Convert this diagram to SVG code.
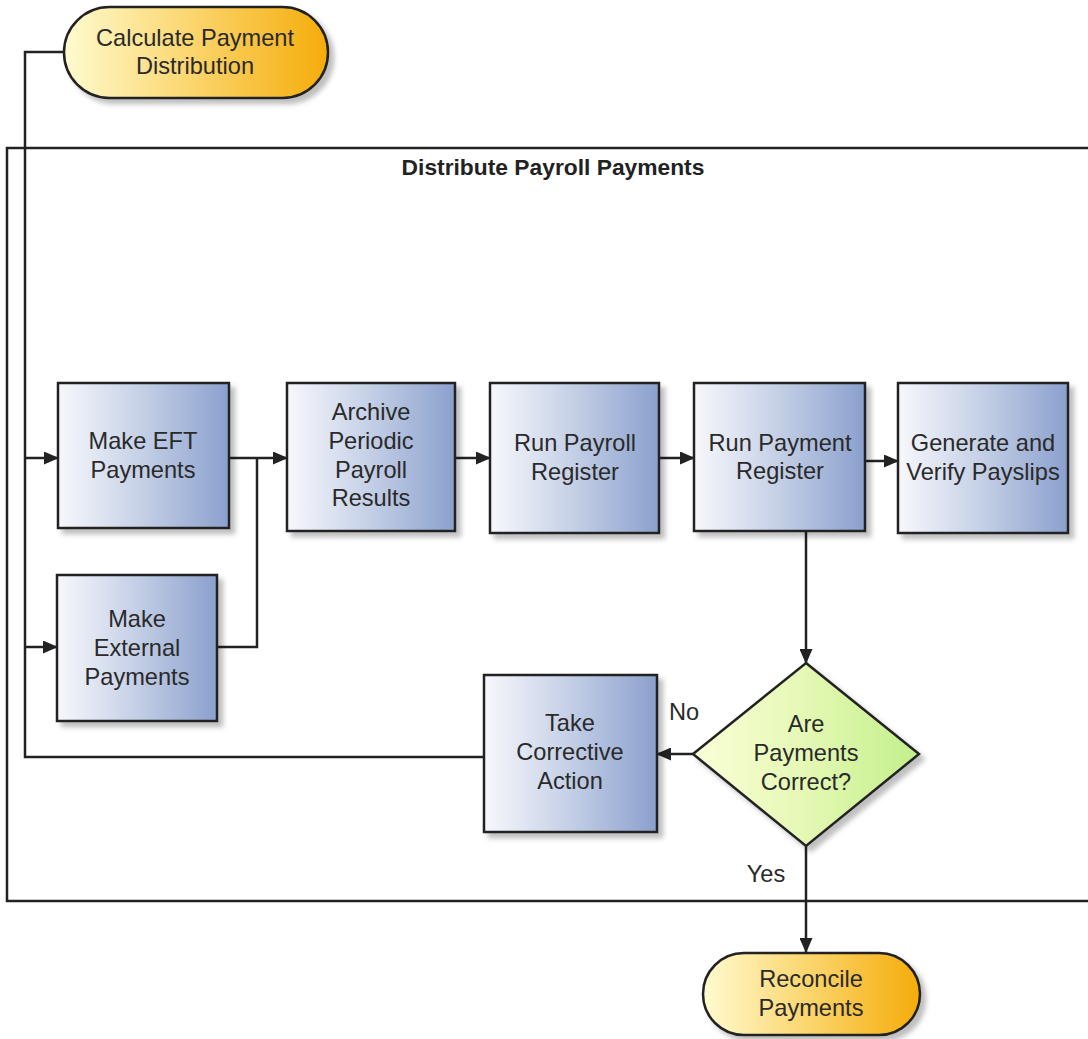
<svg xmlns="http://www.w3.org/2000/svg" width="1088" height="1039" viewBox="0 0 1088 1039">
<style>
.box{stroke:#222;stroke-width:2.5;fill:url(#gBlue);filter:url(#sh)}
.term{stroke:#222;stroke-width:2.5;fill:url(#gOrange);filter:url(#sh)}
.dec{stroke:#222;stroke-width:2.5;fill:url(#gGreen);filter:url(#sh)}
.t{font-family:"Liberation Sans",Arial,sans-serif;font-size:23.6px;fill:#2a2a2a;text-anchor:middle}
.title{font-family:"Liberation Sans",Arial,sans-serif;font-size:22.8px;font-weight:bold;fill:#222;text-anchor:middle}
.c{fill:none;stroke:#222;stroke-width:2.5}
.arr{fill:none;stroke:#222;stroke-width:2.5;marker-end:url(#ah)}
</style>
<defs>
<linearGradient id="gBlue" x1="0" y1="0" x2="1" y2="0"><stop offset="0" stop-color="#f7f8fc"/><stop offset="0.5" stop-color="#c4cfe6"/><stop offset="1" stop-color="#8aa0cd"/></linearGradient>
<linearGradient id="gOrange" x1="0" y1="0" x2="1" y2="0"><stop offset="0" stop-color="#fffbd0"/><stop offset="0.5" stop-color="#fbd46a"/><stop offset="1" stop-color="#f5ac0a"/></linearGradient>
<linearGradient id="gGreen" x1="0" y1="0" x2="1" y2="0"><stop offset="0" stop-color="#fbffd8"/><stop offset="0.5" stop-color="#e4f8b4"/><stop offset="1" stop-color="#c2f08a"/></linearGradient>
<filter id="sh" x="-10%" y="-10%" width="130%" height="130%"><feDropShadow dx="5" dy="5" stdDeviation="2.5" flood-color="#000" flood-opacity="0.25"/></filter>
<marker id="ah" markerWidth="15" markerHeight="13" refX="14" refY="6.5" orient="auto" markerUnits="userSpaceOnUse"><path d="M0,0 L15,6.5 L0,13 Z" fill="#222"/></marker>
</defs>
<rect width="1088" height="1039" fill="#fff"/>
<g id="pool">
<path d="M1090,148 L7,148 L7,901 L1090,901" fill="none" stroke="#222" stroke-width="2.5"/>
<text class="title" x="553" y="175">Distribute Payroll Payments</text>
</g>
<g id="connectors">
<path class="c" d="M64,52 L25,52 L25,757 L484,757"/>
<path class="arr" d="M25,458 L58,458"/>
<path class="arr" d="M25,647 L57,647"/>
<path class="c" d="M229,458 L257,458"/>
<path class="c" d="M217,647 L257,647 L257,458"/>
<path class="arr" d="M257,458 L287,458"/>
<path class="arr" d="M455,458 L490,458"/>
<path class="arr" d="M659,458 L694,458"/>
<path class="arr" d="M865,461 L898,461"/>
<path class="arr" d="M806,531 L806,663"/>
<path class="arr" d="M693,754 L657,754"/>
<path class="arr" d="M806,846 L806,952"/>
<text class="t" x="684" y="720">No</text>
<text class="t" x="766" y="882">Yes</text>
</g>
<g id="calc">
<rect class="term" x="64" y="7" width="264" height="91" rx="45.5"/>
<text class="t" x="195" y="46">Calculate Payment</text>
<text class="t" x="195" y="74">Distribution</text>
</g>
<g id="eft">
<rect class="box" x="58" y="383" width="171" height="145"/>
<text class="t" x="143" y="449">Make EFT</text>
<text class="t" x="143" y="478">Payments</text>
</g>
<g id="ext">
<rect class="box" x="57" y="575" width="160" height="146"/>
<text class="t" x="137" y="627">Make</text>
<text class="t" x="137" y="656">External</text>
<text class="t" x="137" y="685">Payments</text>
</g>
<g id="archive">
<rect class="box" x="287" y="383" width="168" height="148"/>
<text class="t" x="371" y="420">Archive</text>
<text class="t" x="371" y="449">Periodic</text>
<text class="t" x="371" y="478">Payroll</text>
<text class="t" x="371" y="506">Results</text>
</g>
<g id="payroll-register">
<rect class="box" x="490" y="383" width="169" height="150"/>
<text class="t" x="575" y="451">Run Payroll</text>
<text class="t" x="575" y="480">Register</text>
</g>
<g id="payment-register">
<rect class="box" x="694" y="383" width="171" height="148"/>
<text class="t" x="780" y="451">Run Payment</text>
<text class="t" x="780" y="479">Register</text>
</g>
<g id="payslips">
<rect class="box" x="898" y="383" width="170" height="150"/>
<text class="t" x="983" y="451">Generate and</text>
<text class="t" x="983" y="480">Verify Payslips</text>
</g>
<g id="decision">
<polygon class="dec" points="806,663 919,754 806,846 693,754"/>
<text class="t" x="806" y="732">Are</text>
<text class="t" x="806" y="761">Payments</text>
<text class="t" x="806" y="790">Correct?</text>
</g>
<g id="corrective">
<rect class="box" x="484" y="675" width="173" height="157"/>
<text class="t" x="570" y="731">Take</text>
<text class="t" x="570" y="760">Corrective</text>
<text class="t" x="570" y="789">Action</text>
</g>
<g id="reconcile">
<rect class="term" x="703" y="953" width="217" height="82" rx="41"/>
<text class="t" x="811" y="987">Reconcile</text>
<text class="t" x="811" y="1016">Payments</text>
</g>
</svg>
